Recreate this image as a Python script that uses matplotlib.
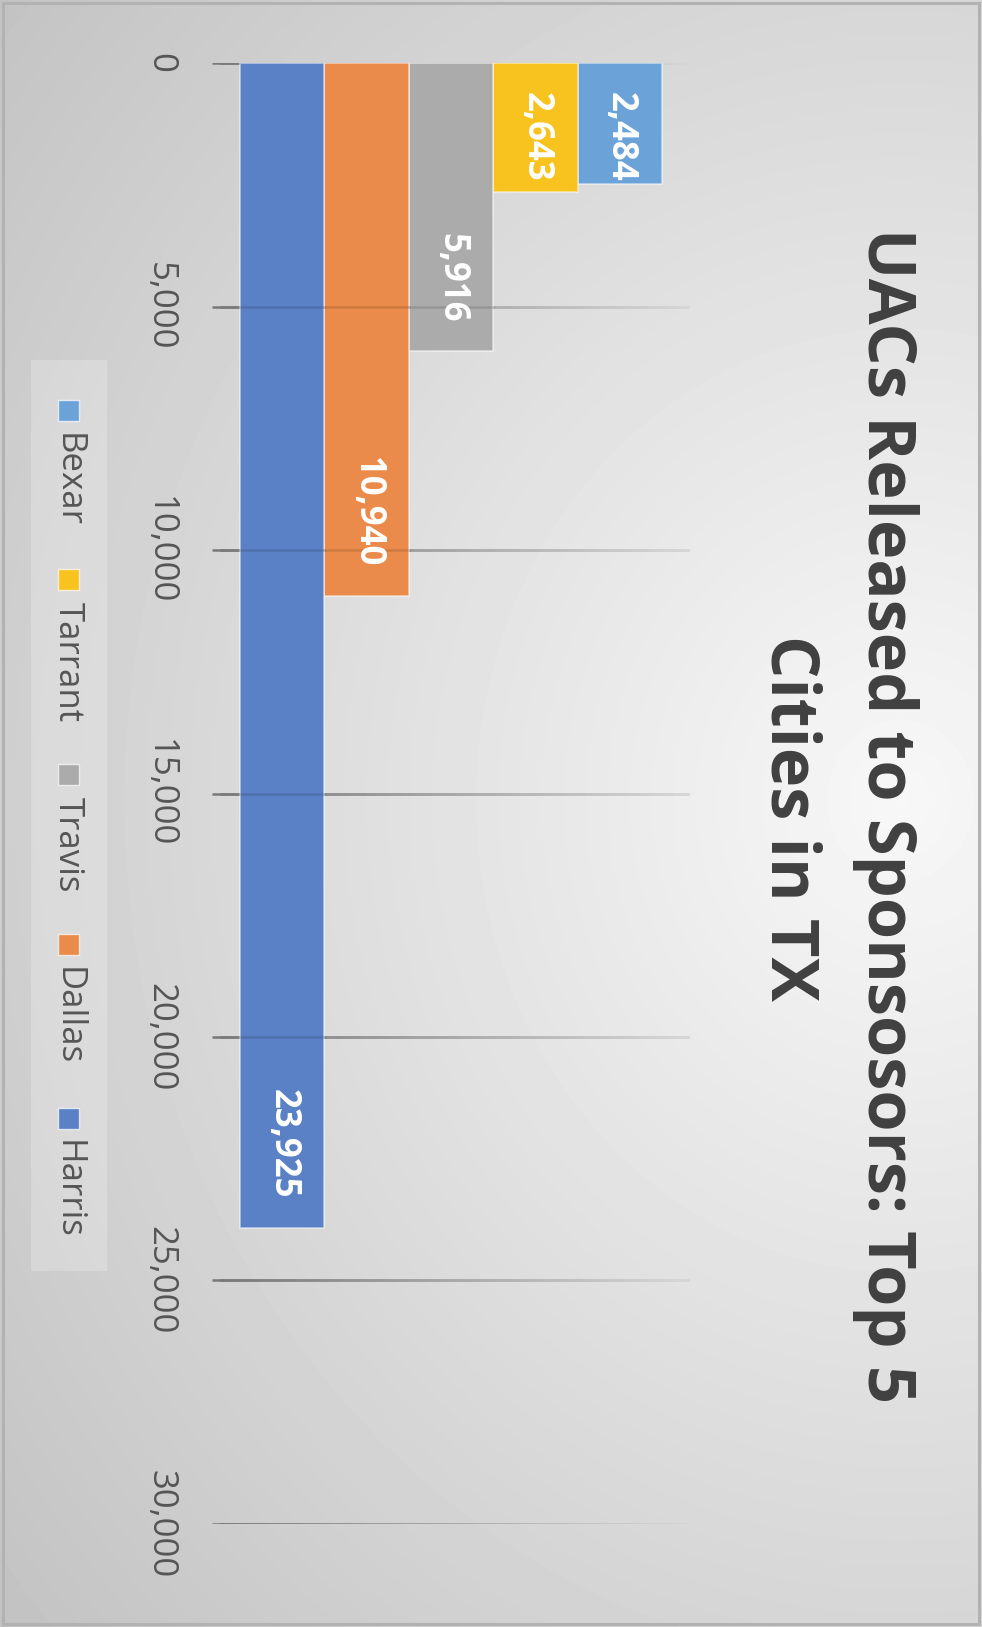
import numpy as np
import matplotlib.pyplot as plt
from matplotlib.patches import Rectangle
from matplotlib.collections import LineCollection

plt.rcParams["font.family"] = ["Open Sans", "DejaVu Sans"]

# data (legend order)
counties = ["Bexar", "Tarrant", "Travis", "Dallas", "Harris"]
released = [2484, 2643, 5916, 10940, 23925]
colors = ["#6BA3D8", "#F8C21F", "#ABABAB", "#EA8B4B", "#5A80C6"]
value_ticks = [0, 5000, 10000, 15000, 20000, 25000, 30000]
title_lines = ["UACs Released to Sponsosors: Top 5", "Cities in TX"]

W, H = 982, 1627
fig = plt.figure(figsize=(W / 100, H / 100), dpi=100)

# background with soft radial gradient, in pixel coords (y down)
bg = fig.add_axes([0, 0, 1, 1], zorder=-10)
yy, xx = np.mgrid[0:H, 0:W]
dist = np.sqrt(((xx - 900) / 900) ** 2 + ((yy - 800) / 1000) ** 2)
shade = np.clip(0.97 - 0.16 * dist, 0, 1)
bg.imshow(shade, cmap="gray", vmin=0, vmax=1, aspect="auto", extent=[0, W, H, 0])
bg.set_xlim(0, W)
bg.set_ylim(H, 0)
bg.axis("off")
bg.add_patch(Rectangle((3, 3), W - 6, H - 6, fill=False, ec="#b2b2b2", lw=2.2))

# chart area (rotated column chart: values grow downward)
ax = fig.add_axes([212 / W, 1 - 1523.7 / H, 478 / W, 1460.4 / H])
ax.patch.set_alpha(0)
xpos = np.arange(len(counties))[::-1]
ax.set_xlim(-0.832, 4.832)
ax.set_ylim(value_ticks[-1], 0)

# gridlines: dark at the left, fading to the right (overlapping pieces, no seams)
gx = np.linspace(-0.832, 4.832, 60)
n = len(gx)
shades = np.linspace(0.47, 0.84, n - 1)
for v in value_ticks:
    segs = [[(gx[i], v), (gx[min(i + 2, n - 1)], v)] for i in range(n - 1)]
    ax.add_collection(LineCollection(segs, colors=[(s, s, s) for s in shades], lw=1.8,
                                     capstyle="butt", zorder=1))

ax.bar(xpos, released, width=1.0, color=colors, edgecolor=(1, 1, 1, 0.55), linewidth=1.2, zorder=3)

# gridlines shine faintly through the bars
for xi, val in zip(xpos, released):
    for v in value_ticks:
        if 0 < v < val:
            ax.plot([xi - 0.5, xi + 0.5], [v, v], color=(0, 0, 0, 0.12), lw=1.8, zorder=4)

ax.set_xticks([])
ax.set_yticks(value_ticks)
ax.set_yticklabels([f"{v:,}" for v in value_ticks])
for lbl in ax.get_yticklabels():
    lbl.set(rotation=-90, ha="center", va="center", color="#555555", fontsize=25)
ax.tick_params(axis="y", length=0, pad=37.4)
for s in ax.spines.values():
    s.set_visible(False)

# data labels, inside end
for xi, val in zip(xpos, released):
    px_len = abs(ax.transData.transform((0, val))[1] - ax.transData.transform((0, 0))[1])
    kw = dict(textcoords="offset pixels", rotation=-90, rotation_mode="anchor", va="center",
              color="white", fontsize=25, fontweight="bold", zorder=5)
    if px_len > 160:
        ax.annotate(f"{val:,}", xy=(xi, val), xytext=(0, 29), ha="right", **kw)
    else:
        ax.annotate(f"{val:,}", xy=(xi, 0), xytext=(0, -29), ha="left", **kw)

# legend (rotated, drawn by hand)
renderer = fig.canvas.get_renderer()
y = 400
for name, c in zip(counties, colors):
    bg.add_patch(Rectangle((58, y), 21, 21, fc=c, ec=(1, 1, 1, 0.7), lw=1, zorder=3))
    y += 21 + 12
    t = bg.text(68, y, name, rotation=-90, rotation_mode="anchor", ha="left", va="center",
                fontsize=25, color="#555555", zorder=3)
    y += t.get_window_extent(renderer).height + 42
bg.add_patch(Rectangle((31, 360), 76, y - 42 + 32 - 360, fc="white", alpha=0.22, ec="none", zorder=2))

# title
bg.text(868, 816, title_lines[0], rotation=-90, rotation_mode="anchor", ha="center", va="baseline",
        fontsize=48, fontweight="bold", color="#404040")
bg.text(772, 818, title_lines[1], rotation=-90, rotation_mode="anchor", ha="center", va="baseline",
        fontsize=48, fontweight="bold", color="#404040")

fig.savefig("out.png", dpi=100)
